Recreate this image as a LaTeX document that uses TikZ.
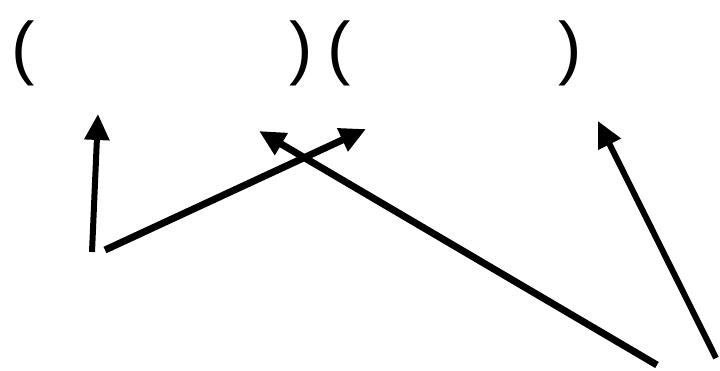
\documentclass[tikz,border=0pt]{standalone}
\usepackage{fontspec}
\setmainfont{Liberation Sans}
\usetikzlibrary{arrows.meta}
\tikzset{
  paren/.style={inner sep=0pt, font=\fontsize{70}{84}\selectfont},
  bigarrow/.style={line width=7pt, -{Triangle[length=26pt,width=24pt]}},
}
\begin{document}
\begin{tikzpicture}[x=1pt,y=-1pt]
\useasboundingbox (0,0) rectangle (720,370);
\node[paren] (p1) at (23,53) {(};
\node[paren] (p2) at (301,53) {)};
\node[paren] (p3) at (339,53) {(};
\node[paren] (p4) at (570,53) {)};
\coordinate (a1s) at (92,252);
\coordinate (a1e) at (98,114);
\coordinate (a2s) at (105,250);
\coordinate (a2e) at (366,129);
\coordinate (a3s) at (657,365);
\coordinate (a3e) at (259,131);
\coordinate (a4s) at (716,358);
\coordinate (a4e) at (598,121);
\draw[bigarrow, line width=6pt] (a1s) -- (a1e);
\draw[bigarrow] (a2s) -- (a2e);
\draw[bigarrow] (a3s) -- (a3e);
\draw[bigarrow, line width=6pt] (a4s) -- (a4e);
\end{tikzpicture}
\end{document}
